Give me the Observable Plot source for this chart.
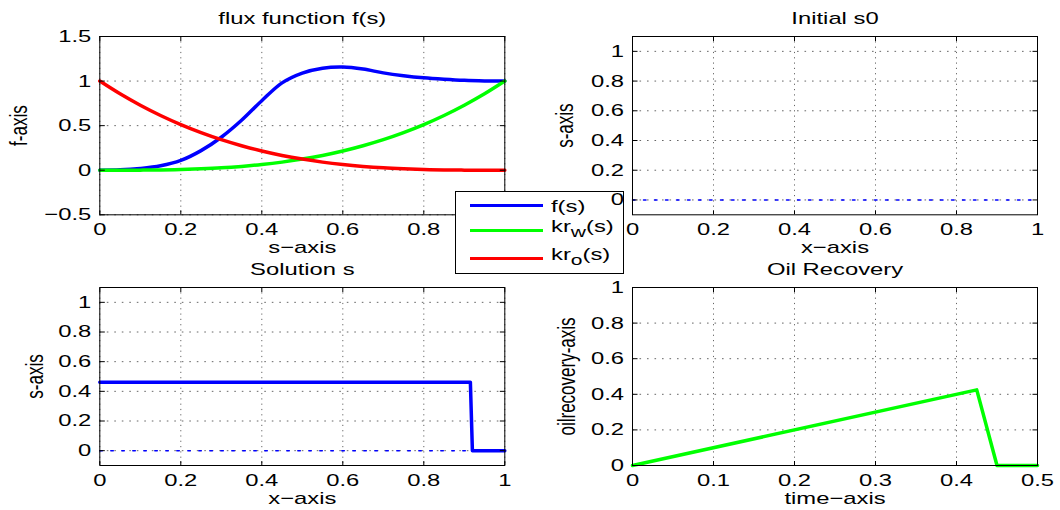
<!DOCTYPE html>
<html><head><meta charset="utf-8">
<script src="https://cdn.jsdelivr.net/npm/d3@7"></script>
<script src="https://cdn.jsdelivr.net/npm/@observablehq/plot@0.6"></script>
<style>
html,body{margin:0;padding:0;background:#fff;}
#wrap{position:relative;width:1060px;height:510px;overflow:hidden;font-family:"Liberation Sans",Arial,sans-serif;}
#wrap svg{position:absolute;left:0;top:0;}
#legend{position:absolute;left:455px;top:191px;width:169px;height:83px;box-sizing:border-box;border:1.5px solid #000;background:#fff;}
.sw{position:absolute;left:14px;width:73px;height:3px;}
.lt{position:absolute;left:95px;font-size:17px;transform:scaleX(1.4);transform-origin:0 50%;line-height:17px;white-space:nowrap;color:#000;}
.lt sub{font-size:15px;vertical-align:-5px;line-height:0;}
</style></head><body><div id="wrap"></div>
<script>
// ---------- data ----------
const sGrid = [0,0.05,0.1,0.15,0.2,0.25,0.3,0.35,0.4,0.45,0.5,0.55,0.6,0.65,0.7,0.75,0.8,0.85,0.9,0.95,1];
const fFlux = [0,0.004,0.02,0.05,0.11,0.22,0.37,0.56,0.78,0.98,1.09,1.145,1.158,1.135,1.092,1.06,1.036,1.02,1.008,1.002,1.0];
const krW   = [0,0.0001,0.001,0.003,0.008,0.016,0.027,0.043,0.064,0.091,0.125,0.166,0.216,0.275,0.343,0.422,0.512,0.614,0.729,0.857,1.0];
const krO   = [1.0,0.857,0.729,0.614,0.512,0.422,0.343,0.275,0.216,0.166,0.125,0.091,0.064,0.043,0.027,0.016,0.008,0.003,0.001,0.0001,0];

const xInit = [0, 1];
const sInit = [0, 0];

const xSol = [0, 0.915, 0.92, 1];
const sSol = [0.462, 0.462, 0, 0];

const tRec   = [0, 0.425, 0.45, 0.5];
const oilRec = [0, 0.425, 0, 0];

const ticks01   = [0,0.2,0.4,0.6,0.8,1];
const ticksF    = [-0.5,0,0.5,1,1.5];
const ticksTime = [0,0.1,0.2,0.3,0.4,0.5];

const titles  = ["flux function f(s)", "Initial s0", "Solution s", "Oil Recovery"];
const xLabels = ["s\u2212axis", "x\u2212axis", "x\u2212axis", "time\u2212axis"];
const yLabels = ["f-axis", "s-axis", "s-axis", "oilrecovery-axis"];

// ---------- helpers ----------
const W = 1060, H = 510, FS = 17, STRETCH = 1.4;
const fmt = d => (d < 0 ? "\u2212" : "") + String(Math.abs(d));
const blank = () => "";
const toRows = (xs, ys) => xs.map((x, i) => ({x, y: ys[i]}));

function stretchText(svg) {
  svg.querySelectorAll("text").forEach(t => {
    const tl = t.transform.baseVal;
    let ax = 0, ay = 0;
    if (tl.numberOfItems) { const m = tl.consolidate().matrix; ax = m.e; ay = m.f; }
    const old = t.getAttribute("transform") || "";
    t.setAttribute("transform", `translate(${ax},${ay}) scale(${STRETCH},1) translate(${-ax},${-ay}) ${old}`);
  });
}

function panel({box, xDomain, yDomain, xTicks, yTicks, marks, title, xLabel, yLabel, yLabelX, titleDy = -18, xLabelDy = 33}) {
  const [x0, x1, y0, y1] = box;
  return Plot.plot({
    width: W, height: H,
    marginLeft: x0, marginRight: W - x1, marginTop: y0, marginBottom: H - y1,
    style: {background: "transparent", fontFamily: '"Liberation Sans", Arial, sans-serif', fontSize: FS + "px", color: "#000"},
    x: {domain: xDomain, label: null},
    y: {domain: yDomain, label: null},
    marks: [
      Plot.gridX(xTicks, {stroke: "#000", strokeOpacity: 0.6, strokeWidth: 1, strokeDasharray: "1.2,4.1"}),
      Plot.gridY(yTicks, {stroke: "#000", strokeOpacity: 0.6, strokeWidth: 1, strokeDasharray: "1.6,5.9"}),
      ...marks,
      Plot.axisX(xTicks, {anchor: "bottom", tickSize: 0, tickPadding: 15, lineAnchor: "middle", tickFormat: fmt, label: null}),
      Plot.axisX(xTicks, {anchor: "bottom", tickSize: -4, tickFormat: blank, label: null}),
      Plot.axisX(xTicks, {anchor: "top", tickSize: -4, tickFormat: blank, label: null}),
      Plot.axisY(yTicks, {anchor: "left", tickSize: 0, tickPadding: 8.5, tickFormat: fmt, label: null}),
      Plot.axisY(yTicks, {anchor: "left", tickSize: -5.5, tickFormat: blank, label: null}),
      Plot.axisY(yTicks, {anchor: "right", tickSize: -5.5, tickFormat: blank, label: null}),
      Plot.frame({stroke: "#000", strokeWidth: 1}),
      Plot.text([title], {text: d => d, frameAnchor: "top", textAnchor: "middle", dy: titleDy, lineAnchor: "middle"}),
      Plot.text([xLabel], {text: d => d, frameAnchor: "bottom", textAnchor: "middle", dy: xLabelDy, lineAnchor: "middle"}),
      Plot.text([yLabel], {text: d => d, frameAnchor: "left", textAnchor: "middle", dx: -(x0 - yLabelX), rotate: -90, lineAnchor: "middle"})
    ]
  });
}

const wrap = document.getElementById("wrap");
function add(node) { wrap.appendChild(node); if (node.tagName && node.tagName.toLowerCase() === "svg") stretchText(node); }

// Panel 1: flux function
const fluxRows = sGrid.map((s, i) => ({s, f: fFlux[i], w: krW[i], o: krO[i]}));
add(panel({
  box: [99.3, 504.3, 36, 214.3], xDomain: [0, 1], yDomain: [-0.5, 1.5],
  xTicks: ticks01, yTicks: ticksF,
  title: titles[0], xLabel: xLabels[0], yLabel: yLabels[0], yLabelX: 18.5,
  marks: [
    Plot.line(fluxRows, {x: "s", y: "f", stroke: "#0000ff", strokeWidth: 3.5, curve: "catmull-rom"}),
    Plot.line(fluxRows, {x: "s", y: "w", stroke: "#00ff00", strokeWidth: 3.5, curve: "catmull-rom"}),
    Plot.line(fluxRows, {x: "s", y: "o", stroke: "#ff0000", strokeWidth: 3.5, curve: "catmull-rom"})
  ]
}));

// Legend
const legend = document.createElement("div");
legend.id = "legend";
legend.innerHTML =
  '<div class="sw" style="top:11.8px;background:#0000ff"></div>' +
  '<div class="lt" style="top:6px">f(s)</div>' +
  '<div class="sw" style="top:36.5px;background:#00ff00"></div>' +
  '<div class="lt" style="top:26px">kr<sub>w</sub>(s)</div>' +
  '<div class="sw" style="top:65.2px;background:#ff0000"></div>' +
  '<div class="lt" style="top:54px">kr<sub>o</sub>(s)</div>';
wrap.appendChild(legend);

// Panel 2: initial s0
add(panel({
  box: [632, 1037, 36, 214.3], xDomain: [0, 1], yDomain: [-0.1, 1.1],
  xTicks: ticks01, yTicks: ticks01,
  title: titles[1], xLabel: xLabels[1], yLabel: yLabels[1], yLabelX: 565,
  marks: [
    Plot.line(toRows(xInit, sInit), {x: "x", y: "y", stroke: "#0000ff", strokeWidth: 1.5, strokeDasharray: "2.5,8.5"})
  ]
}));

// Panel 3: solution s
add(panel({
  box: [99.3, 504.3, 287, 465], xDomain: [0, 1], yDomain: [-0.1, 1.1],
  xTicks: ticks01, yTicks: ticks01,
  title: titles[2], xLabel: xLabels[2], yLabel: yLabels[2], yLabelX: 35,
  marks: [
    Plot.line(toRows(xInit, sInit), {x: "x", y: "y", stroke: "#0000ff", strokeWidth: 1.5, strokeDasharray: "2.5,8.5"}),
    Plot.line(toRows(xSol, sSol), {x: "x", y: "y", stroke: "#0000ff", strokeWidth: 3.5})
  ]
}));

// Panel 4: oil recovery
add(panel({
  box: [632, 1037, 287, 465], xDomain: [0, 0.5], yDomain: [0, 1],
  xTicks: ticksTime, yTicks: ticks01,
  title: titles[3], xLabel: xLabels[3], yLabel: yLabels[3], yLabelX: 567,
  marks: [
    Plot.line(toRows(tRec, oilRec), {x: "x", y: "y", stroke: "#00ff00", strokeWidth: 3.5})
  ]
}));
</script>
</body></html>
